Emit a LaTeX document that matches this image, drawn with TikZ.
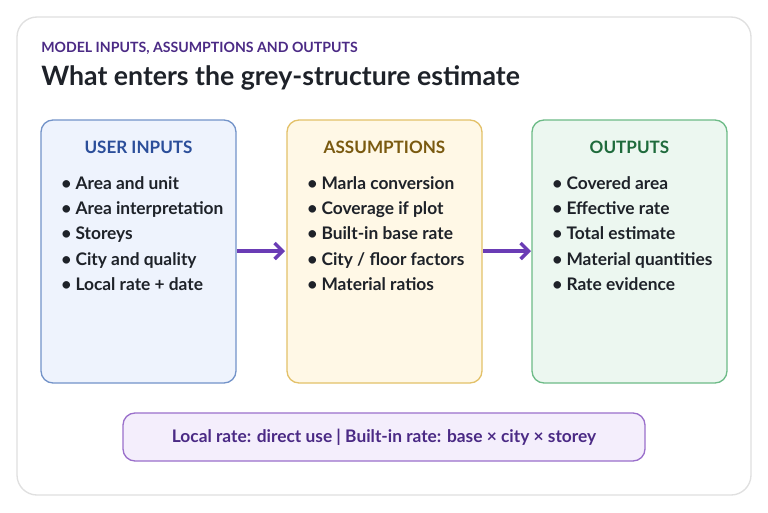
\documentclass[tikz,border=0pt]{standalone}
\usepackage{fontspec}
\setmainfont{Lato}
\usetikzlibrary{arrows.meta}
\definecolor{bfill}{HTML}{EEF3FD}\definecolor{bdraw}{HTML}{7393C9}\definecolor{btext}{HTML}{2B4E9A}
\definecolor{yfill}{HTML}{FFF8E6}\definecolor{ydraw}{HTML}{E3C169}\definecolor{ytext}{HTML}{7A5A10}
\definecolor{gfill}{HTML}{ECF7F0}\definecolor{gdraw}{HTML}{6DBB87}\definecolor{gtext}{HTML}{1F6B3C}
\definecolor{pfill}{HTML}{F4EEFC}\definecolor{pdraw}{HTML}{9A6FCB}\definecolor{ptext}{HTML}{4B2A85}
\definecolor{arr}{HTML}{6A3CB5}\definecolor{ink}{HTML}{1E2229}
\begin{document}
\begin{tikzpicture}[x=0.75pt,y=-0.75pt,
  box/.style={draw,line width=1pt,rounded corners=9pt},
  ttl/.style={font=\fontsize{12.8}{14}\selectfont\bfseries},
  lst/.style={anchor=north west,align=left,text=ink,font=\fontsize{13}{19}\selectfont\bfseries,inner sep=0pt},
  conn/.style={draw=arr,line width=2.6pt,-{Straight Barb[length=6pt,width=12pt,line width=2.6pt]}}]
\useasboundingbox (0,0) rectangle (768,512);
\fill[white] (0,0) rectangle (768,512);
\draw[draw=black!12,fill=white,line width=1pt,rounded corners=15pt] (17,17) rectangle (751,495);
\node[anchor=west,text=ptext,font=\fontsize{10.6}{12}\selectfont\bfseries,inner sep=0pt] (sub) at (41,48) {MODEL INPUTS, ASSUMPTIONS AND OUTPUTS};
\node[anchor=west,text=ink,font=\fontsize{20}{22}\selectfont\bfseries,inner sep=0pt] (head) at (41,78) {What enters the grey-structure estimate};
\draw[box,draw=bdraw,fill=bfill] (41,120) rectangle (236,383);
\draw[box,draw=ydraw,fill=yfill] (287,120) rectangle (482,383);
\draw[box,draw=gdraw,fill=gfill] (532,120) rectangle (727,383);
\node[ttl,text=btext] (t1) at (138.5,147) {USER INPUTS};
\node[ttl,text=ytext] (t2) at (384.5,147) {ASSUMPTIONS};
\node[ttl,text=gtext] (t3) at (629.5,147) {OUTPUTS};
\node[lst] (l1) at (61,176) {• Area and unit\\• Area interpretation\\• Storeys\\• City and quality\\• Local rate + date};
\node[lst] (l2) at (307,176) {• Marla conversion\\• Coverage if plot\\• Built-in base rate\\• City / floor factors\\• Material ratios};
\node[lst] (l3) at (552,176) {• Covered area\\• Effective rate\\• Total estimate\\• Material quantities\\• Rate evidence};
\coordinate (a1s) at (237,251);\coordinate (a1e) at (285,251);
\coordinate (a2s) at (483,251);\coordinate (a2e) at (531,251);
\draw[conn] (a1s) -- (a1e);
\draw[conn] (a2s) -- (a2e);
\draw[box,draw=pdraw,fill=pfill] (123,413) rectangle (645,461);
\node[text=ptext,font=\fontsize{13}{15}\selectfont\bfseries] (note) at (384,437) {Local rate: direct use | Built-in rate: base × city × storey};
\end{tikzpicture}
\end{document}
